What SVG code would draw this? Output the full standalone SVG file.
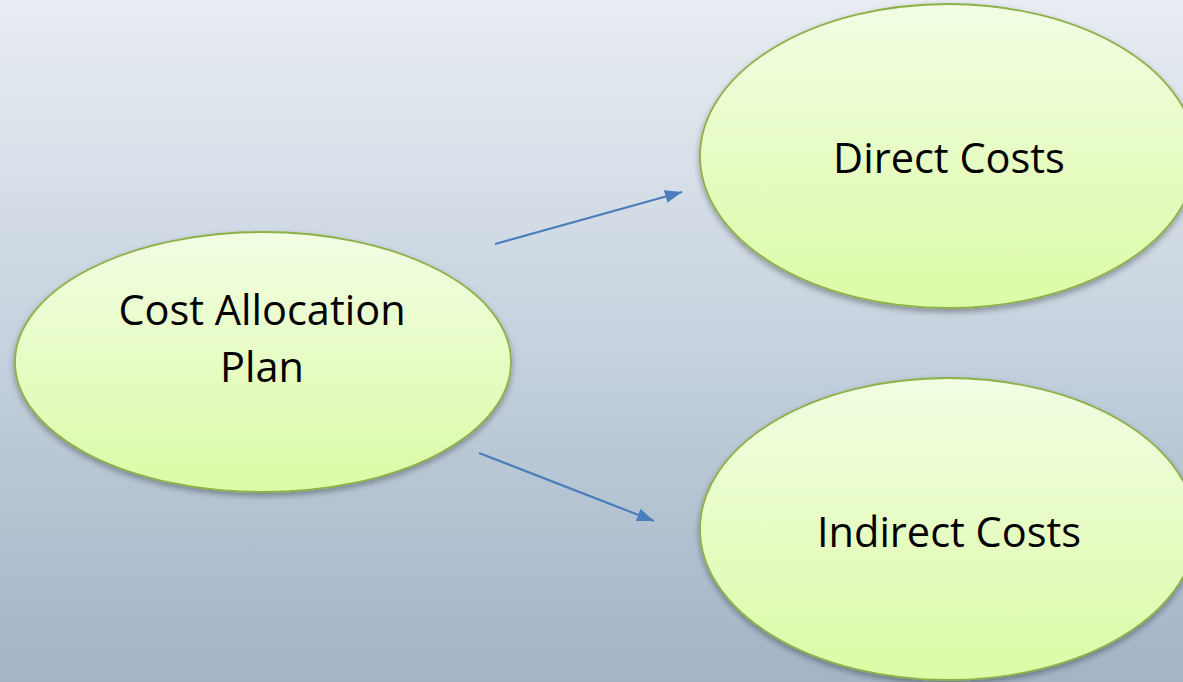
<svg xmlns="http://www.w3.org/2000/svg" width="1183" height="682" viewBox="0 0 1183 682">
  <defs>
    <linearGradient id="bg" x1="0" y1="0" x2="0" y2="1">
      <stop offset="0" stop-color="#e9edf3"/>
      <stop offset="0.5" stop-color="#c6d2de"/>
      <stop offset="1" stop-color="#a2b4c6"/>
    </linearGradient>
    <linearGradient id="nodeFill" x1="0" y1="0" x2="0" y2="1">
      <stop offset="0" stop-color="#f2fde3"/>
      <stop offset="1" stop-color="#dcfba6"/>
    </linearGradient>
    <filter id="shadow" x="-10%" y="-10%" width="120%" height="130%">
      <feGaussianBlur in="SourceAlpha" stdDeviation="3"/>
      <feOffset dx="0" dy="3" result="b"/>
      <feComponentTransfer><feFuncA type="linear" slope="0.35"/></feComponentTransfer>
      <feMerge><feMergeNode/><feMergeNode in="SourceGraphic"/></feMerge>
    </filter>
    <marker id="arrowBig" viewBox="0 0 17 13" refX="17" refY="6.5" markerWidth="17" markerHeight="13" orient="auto" markerUnits="userSpaceOnUse">
      <path d="M0,0 L17,6.5 L0,13 Z" fill="#4a7ebb"/>
    </marker>
  </defs>
  <style>
    .node ellipse { fill: url(#nodeFill); stroke: #8cb148; stroke-width: 1.8; filter: url(#shadow); }
    .node text { font-family: "Open Sans", "Liberation Sans", sans-serif; font-size: 41.5px; fill: #000; text-anchor: middle; }
    .conn line { stroke: #4a7ebb; stroke-width: 2.2; marker-end: url(#arrowBig); }
  </style>
  <rect x="0" y="0" width="1183" height="682" fill="url(#bg)"/>
  <g id="connectors" class="conn">
    <line x1="495" y1="244" x2="682" y2="192"/>
    <line x1="479" y1="453" x2="654" y2="521"/>
  </g>
  <g id="node-plan" class="node">
    <ellipse cx="263" cy="362" rx="248" ry="130"/>
    <text x="262" y="325">Cost Allocation</text>
    <text x="262" y="382">Plan</text>
  </g>
  <g id="node-direct" class="node">
    <ellipse cx="948" cy="156" rx="248" ry="152"/>
    <text x="949" y="173">Direct Costs</text>
  </g>
  <g id="node-indirect" class="node">
    <ellipse cx="948" cy="529" rx="248" ry="151"/>
    <text x="949" y="547">Indirect Costs</text>
  </g>
</svg>
